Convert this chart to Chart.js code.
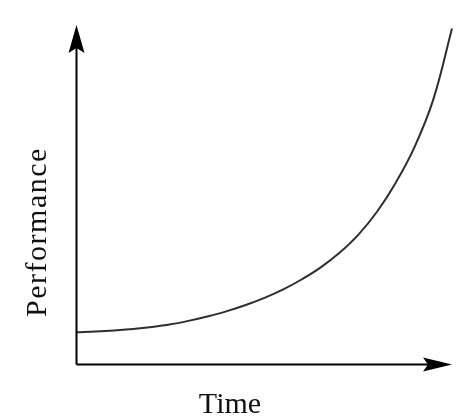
<!DOCTYPE html>
<html>
<head>
<meta charset="utf-8">
<script src="https://cdn.jsdelivr.net/npm/chart.js@4/dist/chart.umd.min.js"></script>
<style>
  html, body { margin: 0; padding: 0; background: #ffffff; }
  canvas { display: block; }
</style>
</head>
<body>
<canvas id="perfChart" width="472" height="420"></canvas>
<script>
// Dữ liệu (trục không có số, thang 0-100)
const timeValues = [0, 5, 10, 15, 20, 25, 30, 35, 40, 45, 50, 55, 60, 65, 70, 75, 80, 85, 90, 95, 100];
const performanceValues = [9.4, 9.6, 9.9, 10.3, 10.9, 11.7, 12.8, 14.1, 15.6, 17.4, 19.5, 22.0, 25.0, 28.5, 32.8, 38.1, 44.9, 53.5, 64.0, 78.0, 99.0];
const xTitle = 'Time';
const yTitle = 'Performance';

const points = timeValues.map((t, i) => ({ x: t, y: performanceValues[i] }));

// Vẽ hai trục có mũi tên và nhãn trục
const axisArrows = {
    id: 'axisArrows',
    afterDraw(chart) {
        const ctx = chart.ctx;
        const a = chart.chartArea;
        const x0 = a.left - 0.5, y0 = a.bottom + 0.5;
        ctx.save();
        ctx.strokeStyle = '#000';
        ctx.fillStyle = '#000';
        ctx.lineWidth = 2;
        ctx.beginPath();
        ctx.moveTo(x0, y0);
        ctx.lineTo(x0, a.top + 10);
        ctx.moveTo(x0, y0);
        ctx.lineTo(a.right - 10, y0);
        ctx.stroke();

        // mũi tên trục Y
        ctx.beginPath();
        ctx.moveTo(x0, a.top);
        ctx.lineTo(x0 + 8, a.top + 28);
        ctx.lineTo(x0, a.top + 23);
        ctx.lineTo(x0 - 8, a.top + 28);
        ctx.closePath();
        ctx.fill();

        // mũi tên trục X
        ctx.beginPath();
        ctx.moveTo(a.right, y0);
        ctx.lineTo(a.right - 29, y0 - 7);
        ctx.lineTo(a.right - 24, y0);
        ctx.lineTo(a.right - 29, y0 + 7);
        ctx.closePath();
        ctx.fill();

        ctx.font = '30px "Liberation Serif", "Times New Roman", serif';
        ctx.fillStyle = '#111';
        ctx.textAlign = 'center';
        ctx.textBaseline = 'alphabetic';
        ctx.fillText(xTitle, 230, 413);

        ctx.translate(46, 232);
        ctx.rotate(-Math.PI / 2);
        ctx.letterSpacing = '1.5px';
        ctx.fillText(yTitle, 0, 0);
        ctx.restore();
    }
};

new Chart(document.getElementById('perfChart'), {
    type: 'line',
    data: {
        datasets: [{
            data: points,
            borderColor: '#2e2e2e',
            borderWidth: 2,
            pointRadius: 0,
            fill: false,
            tension: 0.4,
            clip: false
        }]
    },
    options: {
        responsive: false,
        animation: false,
        layout: { padding: { left: 77, right: 20, top: 25, bottom: 56 } },
        plugins: { legend: { display: false }, tooltip: { enabled: false } },
        scales: {
            x: { type: 'linear', min: 0, max: 100, display: false },
            y: { min: 0, max: 100, display: false }
        }
    },
    plugins: [axisArrows]
});
</script>
</body>
</html>
